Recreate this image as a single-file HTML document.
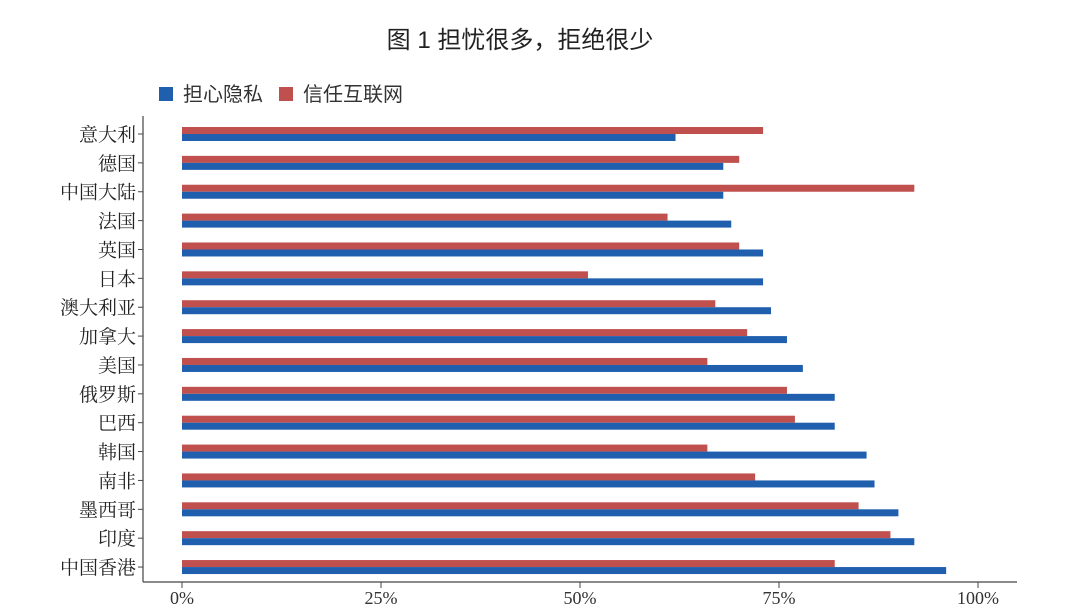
<!DOCTYPE html>
<html><head><meta charset="utf-8"><style>
body{margin:0;background:#fff;width:1080px;height:608px;overflow:hidden}
text{font-family:"Liberation Serif","Noto Serif CJK SC",serif}
</style></head><body>
<svg id="c" width="1080" height="608">
<text x="520" y="48" text-anchor="middle" font-size="24" fill="#222" style="font-family:'Liberation Sans','Noto Sans CJK SC',sans-serif">图 1  担忧很多，拒绝很少</text>
<g>
<rect x="159" y="87" width="14" height="14" fill="#1f5fae"/>
<text x="183" y="101" font-size="20" fill="#333" style="font-family:'Liberation Sans','Noto Sans CJK SC',sans-serif">担心隐私</text>
<rect x="279" y="87" width="14" height="14" fill="#c0504d"/>
<text x="303" y="101" font-size="20" fill="#333" style="font-family:'Liberation Sans','Noto Sans CJK SC',sans-serif">信任互联网</text>
</g>
<g id="plot"></g>
</svg>
<script>
const categories=["意大利","德国","中国大陆","法国","英国","日本","澳大利亚","加拿大","美国","俄罗斯","巴西","韩国","南非","墨西哥","印度","中国香港"];
const privacy=[62,68,68,69,73,73,74,76,78,82,82,86,87,90,92,96];
const trust=[73,70,92,61,70,51,67,71,66,76,77,66,72,85,89,82];
const ticks=[0,25,50,75,100];
const tickLabels=["0%","25%","50%","75%","100%"];
const NS="http://www.w3.org/2000/svg";
const g=document.getElementById('plot');
const x=v=>182+v*7.96;
const y=i=>134+i*28.87;
function mk(t,a){const e=document.createElementNS(NS,t);for(const k in a)e.setAttribute(k,a[k]);g.appendChild(e);return e;}
categories.forEach((c,i)=>{
 let r=mk('rect',{x:x(0),y:y(i)-7,width:x(trust[i])-x(0),height:7,fill:'#c0504d'});
 
 
 let b=mk('rect',{x:x(0),y:y(i),width:x(privacy[i])-x(0),height:7,fill:'#1f5fae'});
 
 
 let t=mk('text',{x:136,y:y(i)+7,'text-anchor':'end','font-size':19,fill:'#222'});
 t.textContent=c;
 
 
 let tk=mk('line',{x1:138,x2:143,y1:y(i),y2:y(i),stroke:'#444'});
 
 
});
let ya=mk('line',{x1:143,x2:143,y1:116,y2:582,stroke:'#444','stroke-width':1.2});


let xa=mk('line',{x1:143,x2:1017,y1:582,y2:582,stroke:'#444','stroke-width':1.2});


ticks.forEach((v,i)=>{
 let l=mk('line',{x1:x(v),x2:x(v),y1:582,y2:588,stroke:'#444'});
 
 
 let t=mk('text',{x:x(v),y:604,'text-anchor':'middle','font-size':18,fill:'#333'});
 t.textContent=tickLabels[i];
 
 
});
</script>
</body></html>
